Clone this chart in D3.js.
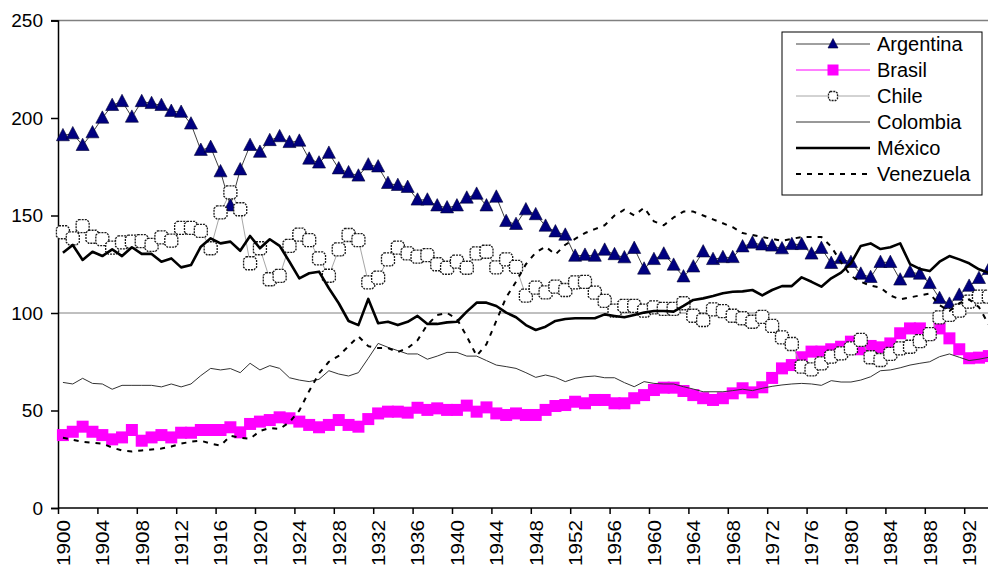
<!DOCTYPE html>
<html>
<head>
<meta charset="utf-8">
<script src="https://cdn.jsdelivr.net/npm/d3@7"></script>
<style>
  body { margin: 0; background: #fff; }
  svg { display: block; font-family: "Liberation Sans", Arial, sans-serif; }
</style>
</head>
<body>
<div id="chart"></div>
<script>
// categories and series (index values)
var years = d3.range(1900, 1995);

var argentina = [191, 192, 186, 192.5, 200, 206.5, 208.5, 200.5, 208.5, 207.5, 206.5, 203.5, 203, 197, 183.5, 185, 172.5, 155, 173.5, 186, 182.5, 188.5, 190.5, 187.5, 188.2,
  179, 177, 182, 174, 172, 170.3, 176, 175, 166.5, 165.5, 164.5, 158, 158, 155, 154, 155, 159, 161, 155, 159.5, 147, 145.5, 153, 150.5,
  144.6, 141.7, 140, 129.2, 129.7, 129.2, 132.3, 130, 128.4, 133.2, 122.6, 127.5, 130.3, 124.6, 118.6, 123.7, 131.4, 127.5, 128.5, 128.5, 134, 135.9, 135, 134.4, 133,
  135.2, 135.2, 130.3, 133.2, 125.5, 128, 126, 120, 118.3, 126, 126, 117, 121, 120, 115.2, 107.5, 104.6, 109.2, 113.8, 117.8, 122.4];

var brasil = [37.4, 39.1, 41.7, 39.1, 37.4, 35.2, 36.2, 40, 34.5, 36.2, 37.4, 36.2, 38.6, 38.6, 40, 40, 40, 41.4, 38.8, 43.1, 44.3, 45.1, 46.5, 46, 44.3,
  42.6, 41.4, 42.6, 45.1, 42.6, 41.7, 45.6, 48.5, 49.4, 49.4, 48.9, 51.4, 50.3, 51.1, 50.3, 50.3, 52.5, 49.4, 51.6, 48.5, 47.7, 48.5, 47.7, 47.7,
  50.3, 52.3, 52.8, 54.5, 53.7, 55.4, 55.4, 53.7, 53.7, 56.3, 57.9, 60.5, 61.7, 61.7, 60, 57.9, 56.3, 55.4, 56.3, 58.8, 61.4, 59.3, 61.9, 66.7, 71.6,
  73.3, 77.3, 80.2, 80.2, 81.4, 82.7, 85.3, 81.4, 83.1, 82.4, 84.4, 89.6, 92.1, 92.1, 89.2, 92.1, 87, 81.4, 76.8, 77.1, 77.9];

var chile = [141.4, 138.3, 144.6, 139.1, 137.9, 133.5, 136.2, 136.6, 136.9, 134.9, 138.8, 137.1, 143.7, 143.7, 142.1, 133.2, 151.6, 161.9, 153.2, 125.5, 133.2, 117.3, 119, 134.4, 140.2,
  137.4, 128, 119.1, 132.6, 140, 137.4, 115.7, 118.1, 127.5, 133.5, 130.6, 128.9, 129.7, 125, 123.2, 126.3, 123.2, 130.6, 131.4, 123.4, 127.5, 123.7, 108.9, 113,
  110.6, 113.5, 111.8, 115.7, 116, 110.4, 106.2, 101.2, 103.7, 103.7, 101.2, 102.9, 102.1, 102.1, 105, 98.6, 96.4, 101.9, 101, 98.6, 97.3, 95.5, 98, 93.4, 87.5,
  84.1, 72.5, 71.1, 74.2, 77.6, 79.3, 81.9, 86.2, 77.3, 75.9, 79, 81.9, 82.7, 85.6, 89.2, 97.8, 99, 101.2, 105.8, 108.4, 108.4];

var colombia = [64.4, 63.6, 66.5, 63.9, 63.6, 60.9, 62.9, 62.9, 62.9, 62.9, 62.1, 63.6, 62.1, 63.6, 67.9, 71.6, 70.8, 71.5, 69.4, 74.2, 70.8, 73, 71.6, 66.8, 65.6,
  64.8, 66, 70.4, 68.7, 67.7, 69.4, 76.8, 84.4, 82.4, 80.7, 79, 79, 76.3, 77.9, 79.8, 79.8, 77.9, 77.9, 75.6, 73.3, 72.5, 71.6, 69.4, 67,
  68.2, 67, 64.8, 66.5, 67.3, 67.7, 66.8, 66.8, 64.3, 62.2, 64.8, 63.9, 63.6, 63.6, 62.2, 61, 59.6, 59.6, 59.6, 60.2, 60.9, 60.2, 61.4, 62.4, 63.1,
  63.6, 63.9, 63.6, 62.9, 65.3, 64.6, 64.6, 65.6, 67.3, 70.4, 70.8, 71.9, 73.3, 74.2, 75, 77.6, 79, 77.3, 75.6, 76.3, 77.3];

var mexico = [130.9, 134.9, 127.2, 131.4, 129.2, 132.6, 129.2, 133.7, 130.3, 130.3, 126.3, 128, 123.4, 124.6, 134, 138.3, 135.7, 136.6, 131.9, 139.5, 133.2, 137.8, 134.4, 126.3, 117.8,
  120.4, 121.2, 112.7, 105, 95.9, 93.8, 107.2, 94.7, 95.5, 93.8, 95.5, 98.5, 94.4, 94.4, 95.2, 95.5, 100.7, 105.3, 105.3, 103.6, 100.2, 97.8, 93.8, 91.3,
  93, 95.9, 96.9, 97.3, 97.3, 97.3, 99.3, 98.5, 97.8, 99, 100.2, 101, 101, 100.7, 103.6, 106.7, 107.5, 108.7, 110.1, 110.9, 111.1, 111.8, 109, 111.8, 113.8,
  113.8, 118.3, 116, 113.5, 117.8, 120.7, 125.5, 134.4, 135.7, 132.8, 133.7, 135.7, 125.1, 122.6, 121.5, 126.3, 129.2, 127.5, 125.5, 122.4, 120.5];

var venezuela = [36, 35, 34, 33.5, 33, 31, 29.5, 29, 29.5, 30, 30.5, 31.5, 33, 34, 34.5, 33, 32, 37, 36, 35.5, 39.5, 41, 40.5, 44, 50,
  60, 69, 75, 78, 83, 88, 83, 82, 82, 80, 82, 86, 94, 99, 100, 97, 88, 78, 84, 96, 108, 116, 125, 131,
  134, 130, 135, 138, 141, 143, 145, 150, 153, 150, 154, 147, 145, 149, 152, 152, 150, 148, 146, 144, 141, 140, 139, 138, 137,
  138, 139, 139, 139, 134, 126, 119, 116, 114, 113, 109, 107, 108, 109, 110, 104, 101, 105, 107, 103, 94];

var seriesNames = ["Argentina", "Brasil", "Chile", "Colombia", "México", "Venezuela"];
var yTicks = [0, 50, 100, 150, 200, 250];
var xTickYears = d3.range(1900, 1995, 4);

var svgWidth = 988;
var svgHeight = 565;

var margin = { top: 20.5, left: 58, bottom: 57 };
var bandW = 9.85;

var svg = d3.select("#chart")
  .append("svg")
  .attr("width", svgWidth)
  .attr("height", svgHeight);

// scales
var x = d3.scaleBand()
  .domain(years)
  .range([margin.left, margin.left + years.length * bandW]);

var y = d3.scaleLinear()
  .domain([0, 250])
  .range([svgHeight - margin.bottom, margin.top]);

var cx = d => x(d) + x.bandwidth() / 2;

// top border and the 100 reference line
svg.append("line")
  .attr("x1", margin.left - 7).attr("x2", svgWidth)
  .attr("y1", y(250)).attr("y2", y(250))
  .attr("stroke", "#808080").attr("stroke-width", 1.5);

svg.append("line")
  .attr("x1", margin.left).attr("x2", svgWidth)
  .attr("y1", y(100)).attr("y2", y(100))
  .attr("stroke", "#808080").attr("stroke-width", 1);

// y axis
var yAxis = svg.append("g")
  .attr("transform", `translate(${margin.left},0)`)
  .call(d3.axisLeft(y).tickValues(yTicks).tickSize(7).tickPadding(8));

yAxis.select(".domain").attr("stroke-width", 1.5);
yAxis.selectAll(".tick line").attr("stroke-width", 1.5);
yAxis.selectAll("text")
  .attr("font-size", "19px")
  .attr("font-family", "'Liberation Sans', Arial, sans-serif")
  .attr("fill", "#000");

// x axis (ticks sit on category boundaries, labels on category centres)
var xb = d3.scaleLinear()
  .domain([1900, 1995])
  .range([margin.left, margin.left + years.length * bandW]);

var xAxis = svg.append("g")
  .attr("transform", `translate(0,${y(0)})`)
  .call(d3.axisBottom(xb).tickValues(xTickYears).tickSize(6).tickFormat(d3.format("d")));

xAxis.select(".domain").attr("stroke-width", 1.5).attr("d", `M${margin.left},0H${svgWidth}`);
xAxis.selectAll(".tick line").attr("stroke-width", 1.5);
xAxis.selectAll("text")
  .attr("y", null)
  .attr("dy", "0.35em")
  .attr("text-anchor", "end")
  .attr("transform", `translate(${bandW / 2},12) rotate(-90) scale(1.15,1)`)
  .attr("font-size", "18px")
  .attr("font-family", "'Liberation Sans', Arial, sans-serif")
  .attr("fill", "#000");

// marker shapes
function triangle(s) {
  return `M0,${-s * 0.55}L${s / 2},${s * 0.4}L${-s / 2},${s * 0.4}Z`;
}
function octagon(s) {
  var h = s / 2, c = s * 0.2;
  return `M${-h + c},${-h}H${h - c}L${h},${-h + c}V${h - c}L${h - c},${h}H${-h + c}L${-h},${h - c}V${-h + c}Z`;
}

var series = [
  { name: "Argentina", values: argentina, stroke: "#404040", width: 1, marker: "tri" },
  { name: "Brasil", values: brasil, stroke: "#ff00ff", width: 1, marker: "sq" },
  { name: "Chile", values: chile, stroke: "#a6a6a6", width: 1, marker: "oct" },
  { name: "Colombia", values: colombia, stroke: "#333", width: 1 },
  { name: "México", values: mexico, stroke: "#000", width: 2.6 },
  { name: "Venezuela", values: venezuela, stroke: "#000", width: 2, dash: "5,6" }
];

var line = d3.line()
  .x((d, i) => cx(years[i]))
  .y(d => y(d));

function drawMarker(g, type, size) {
  if (type === "tri") {
    g.append("path").attr("d", triangle(size))
      .attr("fill", "#000080").attr("stroke", "#000033").attr("stroke-width", 0.6);
  } else if (type === "sq") {
    g.append("rect")
      .attr("x", -size / 2).attr("y", -size / 2)
      .attr("width", size).attr("height", size)
      .attr("fill", "#ff00ff");
  } else if (type === "oct") {
    g.append("path").attr("d", octagon(size))
      .attr("fill", "#fff").attr("stroke", "#1a1a1a")
      .attr("stroke-width", 1.3).attr("stroke-dasharray", "2,1");
  }
}

var markerSize = { tri: 13, sq: 12, oct: 13 };

series.forEach(function(s) {
  var g = svg.append("g").attr("class", "series");
  g.append("path")
    .datum(s.values)
    .attr("d", line)
    .attr("fill", "none")
    .attr("stroke", s.stroke)
    .attr("stroke-width", s.width)
    .attr("stroke-dasharray", s.dash || null)
    .attr("stroke-linejoin", "round");

  if (s.marker) {
    g.selectAll("g.pt")
      .data(s.values)
      .enter()
      .append("g")
      .attr("class", "pt")
      .attr("transform", (d, i) => `translate(${cx(years[i])},${y(d)})`)
      .each(function() { drawMarker(d3.select(this), s.marker, markerSize[s.marker]); });
  }
});

// legend
var legend = svg.append("g").attr("transform", "translate(782,32)");
legend.append("rect")
  .attr("width", 200).attr("height", 163)
  .attr("fill", "#fff").attr("stroke", "#000").attr("stroke-width", 1);

var legendSize = { tri: 10, sq: 11, oct: 9 };

series.forEach(function(s, i) {
  var row = legend.append("g").attr("transform", `translate(0,${12 + i * 26})`);
  row.append("line")
    .attr("x1", 14).attr("x2", 88)
    .attr("stroke", s.stroke)
    .attr("stroke-width", s.width)
    .attr("stroke-dasharray", s.dash || null);
  if (s.marker) {
    var m = row.append("g").attr("transform", "translate(51,0)");
    drawMarker(m, s.marker, legendSize[s.marker]);
  }
  row.append("text")
    .attr("x", 95)
    .attr("dy", "0.35em")
    .attr("font-size", "20px")
    .attr("fill", "#000")
    .text(s.name);
});
</script>
</body>
</html>
